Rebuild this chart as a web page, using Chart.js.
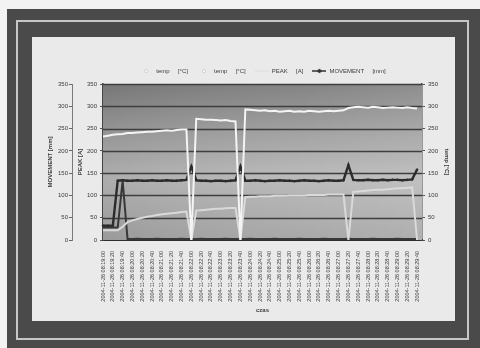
<!DOCTYPE html>
<html><head><meta charset="utf-8">
<script src="https://cdn.jsdelivr.net/npm/chart.js@4/dist/chart.umd.min.js"></script>
<style>
html,body{margin:0;padding:0;background:#f3f3f3;}
body{width:480px;height:348px;position:relative;overflow:hidden;font-family:"Liberation Sans",Arial,sans-serif;}
#frame{position:absolute;left:7px;top:9px;width:473px;height:339px;background:#4a4a4a;}
#fline{position:absolute;left:16px;top:20px;width:453px;height:320px;border:2px solid #c6c6c6;box-sizing:border-box;}
#mat{position:absolute;left:32px;top:37px;width:423px;height:284px;background:#eaeaea;}
#wrap{position:absolute;left:32px;top:37px;width:423px;height:284px;}
</style></head>
<body>
<div id="frame"></div><div id="fline"></div><div id="mat"></div>
<div id="wrap"><canvas id="c" width="423" height="284"></canvas></div>
<script>
const categories = [
'2004-11-26 08:19:00','2004-11-26 08:19:10','2004-11-26 08:19:20','2004-11-26 08:19:30','2004-11-26 08:19:40','2004-11-26 08:19:50',
'2004-11-26 08:20:00','2004-11-26 08:20:10','2004-11-26 08:20:20','2004-11-26 08:20:30','2004-11-26 08:20:40','2004-11-26 08:20:50',
'2004-11-26 08:21:00','2004-11-26 08:21:10','2004-11-26 08:21:20','2004-11-26 08:21:30','2004-11-26 08:21:40','2004-11-26 08:21:50',
'2004-11-26 08:22:00','2004-11-26 08:22:10','2004-11-26 08:22:20','2004-11-26 08:22:30','2004-11-26 08:22:40','2004-11-26 08:22:50',
'2004-11-26 08:23:00','2004-11-26 08:23:10','2004-11-26 08:23:20','2004-11-26 08:23:30','2004-11-26 08:23:40','2004-11-26 08:23:50',
'2004-11-26 08:24:00','2004-11-26 08:24:10','2004-11-26 08:24:20','2004-11-26 08:24:30','2004-11-26 08:24:40','2004-11-26 08:24:50',
'2004-11-26 08:25:00','2004-11-26 08:25:10','2004-11-26 08:25:20','2004-11-26 08:25:30','2004-11-26 08:25:40','2004-11-26 08:25:50',
'2004-11-26 08:26:00','2004-11-26 08:26:10','2004-11-26 08:26:20','2004-11-26 08:26:30','2004-11-26 08:26:40','2004-11-26 08:26:50',
'2004-11-26 08:27:00','2004-11-26 08:27:10','2004-11-26 08:27:20','2004-11-26 08:27:30','2004-11-26 08:27:40','2004-11-26 08:27:50',
'2004-11-26 08:28:00','2004-11-26 08:28:10','2004-11-26 08:28:20','2004-11-26 08:28:30','2004-11-26 08:28:40','2004-11-26 08:28:50',
'2004-11-26 08:29:00','2004-11-26 08:29:10','2004-11-26 08:29:20','2004-11-26 08:29:30','2004-11-26 08:29:40','2004-11-26 08:29:50'
];
const tempUpper = [232,234,236,237,238,240,240,241,242,243,243,244,245,246,245,247,248,248,
  0, 272,271,270,270,269,268,269,267,266,
  0, 293,292,291,290,291,289,290,288,289,290,288,289,288,290,289,288,289,290,289,290,291,
  296,298,299,298,297,299,298,296,297,298,297,296,298,296,295, null];
const tempLower = [22,22,22,22, 30,40,44,47,50,52,54,56,58,59,60,61,63,64,
  0, 66,67,68,69,70,70,71,72,72,
  0, 96,97,97,98,98,98,99,99,99,100,100,100,100,101,101,101,101,102,102,102,102,
  0, 108,109,110,111,112,113,113,114,115,116,116,117,118,
  0, null];
const peak = [28,28,28,28, 133, 2,2,3,2,2,2,3,2,2,2,2,3,
  2,2,2,3,2,2,2,2,3,2,2,2,2,3,2,2,2,2,3,2,2,2,2,3,2,2,2,2,3,2,2,2,2,3,2,2,2,2,3,2,2,2,2,3,2,2,2,2, null];
const movement = [32,32,32, 133,134,133,133,134,133,133,134,133,133,134,133,133,134,135,
  165, 134,133,133,132,133,133,132,133,134,
  165, 133,133,134,133,132,133,133,134,133,133,132,133,134,133,133,132,133,134,133,133,134,
  168, 135,134,134,135,134,134,135,134,135,135,134,135,136,
  158, null];
const yTicks = [0,50,100,150,200,250,300,350];
const legendNames = ['temp     [°C]','temp     [°C]','PEAK     [A]','MOVEMENT     [mm]'];

function marker(kind){
  const c=document.createElement('canvas'); c.width=14; c.height=6;
  const x=c.getContext('2d');
  if(kind==='dot'){ x.fillStyle='#f8f8f8'; x.strokeStyle='#bdbdbd'; x.lineWidth=0.6; x.beginPath(); x.arc(7,3,1.6,0,Math.PI*2); x.fill(); x.stroke(); }
  else if(kind==='line'){ x.strokeStyle='#dedede'; x.lineWidth=1.2; x.beginPath(); x.moveTo(0,3); x.lineTo(14,3); x.stroke(); }
  else { x.strokeStyle='#333'; x.lineWidth=1.5; x.beginPath(); x.moveTo(0,3); x.lineTo(14,3); x.stroke();
    x.fillStyle='#333'; x.beginPath(); x.moveTo(7,0.5); x.lineTo(9.5,3); x.lineTo(7,5.5); x.lineTo(4.5,3); x.closePath(); x.fill(); }
  return c;
}
const markers=[marker('dot'),marker('dot'),marker('line'),marker('diamond')];

const bgPlugin={id:'bg',beforeDatasetsDraw(chart){
  const {ctx,chartArea:a}=chart;
  ctx.save();
  const g=ctx.createLinearGradient(0,a.top,0,a.bottom);
  g.addColorStop(0,'#7e7e7e'); g.addColorStop(0.35,'#a2a2a2'); g.addColorStop(0.6,'#b8b8b8'); g.addColorStop(1,'#a4a4a4');
  ctx.fillStyle=g; ctx.fillRect(a.left,a.top,a.right-a.left,a.bottom-a.top);
  const h=ctx.createLinearGradient(a.left,0,a.right,0);
  h.addColorStop(0,'rgba(0,0,0,0.06)'); h.addColorStop(0.6,'rgba(255,255,255,0.04)'); h.addColorStop(1,'rgba(255,255,255,0.12)');
  ctx.fillStyle=h; ctx.fillRect(a.left,a.top,a.right-a.left,a.bottom-a.top);
  const s=chart.scales.y2;
  ctx.strokeStyle='#3e3e3e'; ctx.lineWidth=1.3;
  yTicks.forEach(v=>{ if(v===0) return; const y=Math.round(s.getPixelForValue(v))+0.5; ctx.beginPath(); ctx.moveTo(a.left,y); ctx.lineTo(a.right,y); ctx.stroke(); });
  ctx.restore();
}};

const txt='#3a3a3a';
const f6={family:'"Liberation Sans", Arial, sans-serif',size:6};
const f6b={family:'"Liberation Sans", Arial, sans-serif',size:6,weight:'bold'};

new Chart(document.getElementById('c'),{
  type:'line',
  data:{labels:categories,datasets:[
    {label:legendNames[0],data:tempUpper,yAxisID:'y2',borderColor:'#f4f4f4',backgroundColor:'#f4f4f4',borderWidth:2,pointRadius:0,tension:0},
    {label:legendNames[1],data:tempLower,yAxisID:'y2',borderColor:'#d9d9d9',backgroundColor:'#d9d9d9',borderWidth:2,pointRadius:0,tension:0},
    {label:legendNames[2],data:peak,yAxisID:'yPeak',borderColor:'#383838',backgroundColor:'#383838',borderWidth:2,pointRadius:0,tension:0},
    {label:legendNames[3],data:movement,yAxisID:'yMove',borderColor:'#2c2c2c',backgroundColor:'#2c2c2c',borderWidth:2.4,pointStyle:'rectRot',pointRadius:1.5,pointBorderWidth:0,tension:0}
  ]},
  options:{
    responsive:false,animation:false,
    layout:{padding:{top:8,left:0,right:0,bottom:4}},
    plugins:{
      tooltip:{enabled:false},
      legend:{position:'top',fullSize:false,labels:{usePointStyle:true,pointStyleWidth:14,padding:9,color:txt,font:f6,
        generateLabels(chart){
          const items=Chart.defaults.plugins.legend.labels.generateLabels(chart);
          items.forEach((it,i)=>{it.pointStyle=markers[i];});
          return items;
        }}}
    },
    scales:{
      x:{type:'category',offset:false,grid:{display:false},border:{display:true,color:'#2e2e2e',width:2},
        ticks:{autoSkip:false,maxRotation:90,minRotation:90,padding:3,color:txt,font:{family:'"Liberation Sans", Arial, sans-serif',size:5.5},
          callback(v,i){return i%2===0?this.getLabelForValue(v):'';}},
        title:{display:true,text:'czas',color:txt,font:f6b,padding:{top:0,bottom:3.4}},
        afterFit(s){s.height=77;}},
      yPeak:{type:'linear',position:'left',weight:1,min:0,max:350,
        afterBuildTicks(s){s.ticks=yTicks.map(v=>({value:v}));},
        grid:{drawOnChartArea:false,tickLength:3,tickColor:'#555'},border:{color:'#454545',width:1.5},
        ticks:{padding:3,color:txt,font:f6},
        title:{display:true,text:'PEAK [A]',color:txt,font:f6b,padding:{top:4.4,bottom:0}},
        afterFit(s){s.width=31;}},
      yMove:{type:'linear',position:'left',weight:2,min:0,max:350,
        afterBuildTicks(s){s.ticks=yTicks.map(v=>({value:v}));},
        grid:{drawOnChartArea:false,tickLength:3,tickColor:'#666'},border:{color:'#7a7a7a',width:1},
        ticks:{padding:1,color:txt,font:f6},
        title:{display:true,text:'MOVEMENT [mm]',color:txt,font:f6b,padding:{top:14.4,bottom:0}},
        afterFit(s){s.width=40;s.paddingTop=47;}},
      y2:{type:'linear',position:'right',min:0,max:350,
        afterBuildTicks(s){s.ticks=yTicks.map(v=>({value:v}));},
        grid:{drawOnChartArea:false,tickLength:3,tickColor:'#555'},border:{color:'#454545',width:1.5},
        ticks:{padding:3,color:txt,font:f6},
        title:{display:true,text:'temp [°C]',color:txt,font:f6b,padding:{top:4.4,bottom:0}},
        afterFit(s){s.width=33;}}
    }
  },
  plugins:[bgPlugin]
});
</script>
</body></html>
